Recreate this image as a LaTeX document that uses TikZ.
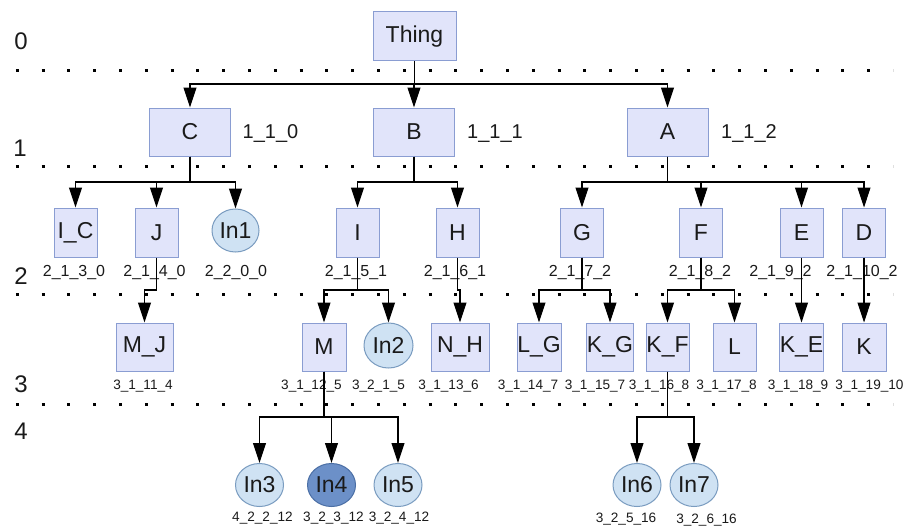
\documentclass[tikz,border=0pt]{standalone}
\usepackage{fontspec}
\setmainfont{Liberation Sans}
\usetikzlibrary{arrows.meta,shapes.geometric}
\definecolor{boxfill}{HTML}{E1E4FA}
\definecolor{boxline}{HTML}{8A9DD2}
\definecolor{ellfill}{HTML}{CFE2F3}
\definecolor{ellline}{HTML}{7A9CC0}
\definecolor{darkfill}{HTML}{6C90C8}
\definecolor{darkline}{HTML}{4B6FA5}
\definecolor{txt}{HTML}{1A1A1A}
\tikzset{
  cls/.style={rectangle, draw=boxline, fill=boxfill, line width=1pt, inner sep=0pt,
    font=\fontsize{23}{25}\selectfont, text=txt},
  box1/.style={cls, minimum width=81pt, minimum height=48pt},
  box2/.style={cls, minimum width=43pt, minimum height=49pt},
  box3/.style={cls, minimum width=43pt, minimum height=48pt},
  ind/.style={ellipse, draw=ellline, fill=ellfill, line width=1pt, inner sep=0pt,
    minimum width=48pt, minimum height=43pt, font=\fontsize{23}{25}\selectfont, text=txt},
  inddark/.style={ind, draw=darkline, fill=darkfill},
  arr/.style={-{Triangle[length=20pt,width=13pt]}, line width=1.1pt, draw=black},
  dotline/.style={line width=3pt, dash pattern=on 3pt off 22.8pt, draw=black},
  labA/.style={font=\fontsize{20}{22}\selectfont, text=txt, inner sep=0pt},
  labB/.style={font=\fontsize{16}{18}\selectfont, text=txt, inner sep=0pt},
  labC/.style={font=\fontsize{13.6}{15}\selectfont, text=txt, inner sep=0pt},
  lvl/.style={font=\fontsize{24}{26}\selectfont, text=txt, inner sep=0pt}
}
\begin{document}
\begin{tikzpicture}[x=1pt,y=-1pt]
\useasboundingbox (0,0) rectangle (904,527);
\fill[white] (0,0) rectangle (904,527);
% dotted level separators
\draw[dotline] (15.8,70) -- (893,70);
\draw[dotline] (15.8,166) -- (893,166);
\draw[dotline] (15.8,294) -- (893,294);
\draw[dotline] (15.8,404) -- (893,404);
% level numbers
\node[lvl] (l0) at (21,41) {0};
\node[lvl] (l1) at (20,148) {1};
\node[lvl] (l2) at (21,276) {2};
\node[lvl] (l3) at (21,384) {3};
\node[lvl] (l4) at (21,431) {4};
% bus coordinates
\coordinate (b1) at (0,84);
\coordinate (b2) at (0,182);
\coordinate (b3) at (0,290);
\coordinate (b4) at (0,417);
% level 0
\node[cls, minimum width=83pt, minimum height=49pt] (thing) at (414.5,36.5) {Thing};
% level 1
\node[box1] (C) at (190,132) {C};
\node[box1] (B) at (414,132) {B};
\node[box1] (A) at (667.5,132) {A};
% level 2
\node[box2] (IC) at (75.5,232.5) {I\_C};
\node[box2] (J) at (156.5,232.5) {J};
\node[ind, minimum width=47pt] (In1) at (235.5,230.5) {In1};
\node[box2] (I) at (357.5,232.5) {I};
\node[box2] (H) at (457.5,232.5) {H};
\node[box2] (G) at (582,232.5) {G};
\node[box2] (F) at (701,232.5) {F};
\node[box2] (E) at (801.5,232.5) {E};
\node[box2] (D) at (864,232.5) {D};
% level 3
\node[box3, minimum width=57pt] (MJ) at (144.5,347) {M\_J};
\node[box3, minimum width=44pt] (M) at (324,347) {M};
\node[ind, minimum width=49pt, minimum height=45pt] (In2) at (388.5,345.5) {In2};
\node[box3, minimum width=58pt] (NH) at (460,347) {N\_H};
\node[box3, minimum width=44pt] (LG) at (539,347) {L\_G};
\node[box3, minimum width=44pt] (KG) at (610,347) {K\_G};
\node[box3] (KF) at (667.5,347) {K\_F};
\node[box3] (L) at (734.5,347) {L};
\node[box3] (KE) at (801.5,347) {K\_E};
\node[box3, minimum width=44pt] (K) at (864,347) {K};
% level 4
\node[ind] (In3) at (259.5,485) {In3};
\node[inddark] (In4) at (331.5,485) {In4};
\node[ind] (In5) at (398,485) {In5};
\node[ind] (In6) at (637,485) {In6};
\node[ind] (In7) at (694,485) {In7};
% labels
\node[labA] (tC) at (270.5,134) {1\_1\_0};
\node[labA] (tB) at (495,134) {1\_1\_1};
\node[labA] (tA) at (749,134) {1\_1\_2};
\node[labB] (tIC) at (74,273) {2\_1\_3\_0};
\node[labB] (tJ) at (154.5,273) {2\_1\_4\_0};
\node[labB] (tIn1) at (236,273) {2\_2\_0\_0};
\node[labB] (tI) at (356,273) {2\_1\_5\_1};
\node[labB] (tH) at (455,273) {2\_1\_6\_1};
\node[labB] (tG) at (580,273) {2\_1\_7\_2};
\node[labB] (tF) at (700,273) {2\_1\_8\_2};
\node[labB] (tE) at (780.5,273) {2\_1\_9\_2};
\node[labB] (tD) at (862,273) {2\_1\_10\_2};
\node[labC] (tMJ) at (143,386) {3\_1\_11\_4};
\node[labC] (tM) at (311.5,386) {3\_1\_12\_5};
\node[labC] (tIn2) at (378.5,386) {3\_2\_1\_5};
\node[labC] (tNH) at (448.5,386) {3\_1\_13\_6};
\node[labC] (tLG) at (528,386) {3\_1\_14\_7};
\node[labC] (tKG) at (595,386) {3\_1\_15\_7};
\node[labC] (tKF) at (659,386) {3\_1\_16\_8};
\node[labC] (tL) at (726.5,386) {3\_1\_17\_8};
\node[labC] (tKE) at (798,386) {3\_1\_18\_9};
\node[labC] (tK) at (869.5,386) {3\_1\_19\_10};
\node[labC] (tIn3) at (262.5,518) {4\_2\_2\_12};
\node[labC] (tIn4) at (333.5,518) {3\_2\_3\_12};
\node[labC] (tIn5) at (399,518) {3\_2\_4\_12};
\node[labC] (tIn6) at (626,519) {3\_2\_5\_16};
\node[labC] (tIn7) at (706.5,520) {3\_2\_6\_16};
% connectors
\foreach \c in {C,B,A}
  \draw[arr] (thing.south) -- (thing.south |- b1) -| (\c.north);
\foreach \c in {IC,J,In1}
  \draw[arr] (C.south) -- (C.south |- b2) -| (\c.north);
\foreach \c in {I,H}
  \draw[arr] (B.south) -- (B.south |- b2) -| (\c.north);
\foreach \c in {G,F,E,D}
  \draw[arr] (A.south) -- (A.south |- b2) -| (\c.north);
\draw[arr] (J.south) -- (J.south |- b3) -| (MJ.north);
\foreach \c in {M,In2}
  \draw[arr] (I.south) -- (I.south |- b3) -| (\c.north);
\draw[arr] (H.south) -- (H.south |- b3) -| (NH.north);
\foreach \c in {LG,KG}
  \draw[arr] (G.south) -- (G.south |- b3) -| (\c.north);
\foreach \c in {KF,L}
  \draw[arr] (F.south) -- (F.south |- b3) -| (\c.north);
\draw[arr] (E.south) -- (KE.north);
\draw[arr] (D.south) -- (K.north);
\foreach \c in {In3,In4,In5}
  \draw[arr] (M.south) -- (M.south |- b4) -| (\c.north);
\foreach \c in {In6,In7}
  \draw[arr] (KF.south) -- (KF.south |- b4) -| (\c.north);
\end{tikzpicture}
\end{document}
